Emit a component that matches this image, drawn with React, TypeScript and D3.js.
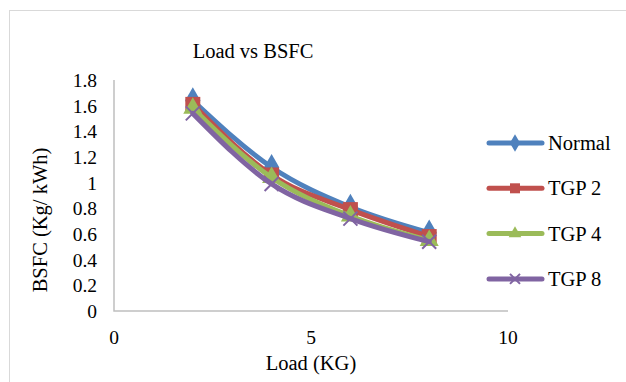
import { useEffect, useRef } from 'react'
import * as d3 from 'd3'

const loads = [2, 4, 6, 8]
const seriesNames = ['Normal', 'TGP 2', 'TGP 4', 'TGP 8']
const normal = [1.64, 1.12, 0.81, 0.61]
const tgp2 = [1.61, 1.06, 0.79, 0.58]
const tgp4 = [1.58, 1.04, 0.74, 0.55]
const tgp8 = [1.54, 0.99, 0.72, 0.54]
const yTicks = [0, 0.2, 0.4, 0.6, 0.8, 1, 1.2, 1.4, 1.6, 1.8]
const xTicks = [0, 5, 10]
const colors = ['#4F81BD', '#C0504D', '#9BBB59', '#8064A2']
const markers = ['diamond', 'square', 'triangle', 'x']

const W = 626
const H = 382
const FONT = 'Liberation Serif, Times New Roman, serif'

export default function App() {
  const svgRef = useRef<SVGSVGElement>(null)

  useEffect(() => {
    if (!svgRef.current) return
    const svg = d3.select(svgRef.current)
    svg.selectAll('*').remove()

    // chart frame
    svg.append('rect')
      .attr('x', 9.5).attr('y', 10.5)
      .attr('width', 700).attr('height', 500)
      .style('fill', 'white')
      .style('stroke', '#d9d9d9')

    const x = d3.scaleLinear().domain([0, 10]).range([114, 508])
    const y = d3.scaleLinear().domain([0, 1.8]).range([311, 80])

    // axes
    svg.append('path')
      .attr('d', `M${x(0)},${y(1.8)}V${y(0)}H${x(10)}`)
      .style('fill', 'none')
      .style('stroke', '#bfbfbf')
      .style('stroke-width', '1.5px')

    const txt = (g: any) => g.attr('font-family', FONT).attr('fill', '#000')

    svg.append('g').call(txt).selectAll('text')
      .data(yTicks).enter().append('text')
      .attr('x', 97)
      .attr('y', d => y(d) + 7)
      .attr('text-anchor', 'end')
      .attr('font-size', 19.5)
      .text(d => String(d))

    svg.append('g').call(txt).selectAll('text')
      .data(xTicks).enter().append('text')
      .attr('x', d => x(d))
      .attr('y', 344)
      .attr('text-anchor', 'middle')
      .attr('font-size', 19.5)
      .text(d => String(d))

    // titles
    const titles = svg.append('g').call(txt)
    titles.append('text')
      .attr('x', 253).attr('y', 58)
      .attr('text-anchor', 'middle')
      .attr('font-size', 20.5)
      .text('Load vs BSFC')

    titles.append('text')
      .attr('x', 311).attr('y', 370)
      .attr('text-anchor', 'middle')
      .attr('font-size', 20.5)
      .text('Load (KG)')

    titles.append('text')
      .attr('transform', `translate(47,${220}) rotate(-90)`)
      .attr('text-anchor', 'middle')
      .attr('font-size', 20.5)
      .text('BSFC (Kg/ kWh)')

    const allSeries = [normal, tgp2, tgp4, tgp8]
    const line = d3.line<number>()
      .x((_, i) => x(loads[i]))
      .y(d => y(d))
      .curve(d3.curveMonotoneX)

    const drawMarker = (g: any, kind: string, cx: number, cy: number, color: string, s: number) => {
      if (kind === 'diamond') {
        g.append('path')
          .attr('d', d3.symbol(d3.symbolDiamond, s * s * 0.9)())
          .attr('transform', `translate(${cx},${cy})`)
          .style('fill', color)
      } else if (kind === 'square') {
        g.append('rect')
          .attr('x', cx - s / 2).attr('y', cy - s / 2)
          .attr('width', s).attr('height', s)
          .style('fill', color)
      } else if (kind === 'triangle') {
        g.append('path')
          .attr('d', d3.symbol(d3.symbolTriangle, s * s * 0.7)())
          .attr('transform', `translate(${cx},${cy})`)
          .style('fill', color)
      } else {
        const h = s / 2
        g.append('path')
          .attr('d', `M${cx - h},${cy - h}L${cx + h},${cy + h}M${cx - h},${cy + h}L${cx + h},${cy - h}`)
          .style('stroke', color)
          .style('stroke-width', '2px')
      }
    }

    allSeries.forEach((vals, si) => {
      const g = svg.append('g')
      g.append('path')
        .datum(vals)
        .attr('d', line)
        .style('fill', 'none')
        .style('stroke', colors[si])
        .style('stroke-width', '5px')
        .style('stroke-linejoin', 'round')
        .style('stroke-linecap', 'round')
      vals.forEach((v, i) => {
        drawMarker(g, markers[si], x(loads[i]), y(v), colors[si], si === 3 ? 14 : 15)
      })
    })

    // legend
    const lg = svg.append('g')
    seriesNames.forEach((name, i) => {
      const ly = 143 + i * 45.3
      lg.append('line')
        .attr('x1', 489).attr('x2', 542)
        .attr('y1', ly).attr('y2', ly)
        .style('stroke', colors[i])
        .style('stroke-width', '5px')
        .style('stroke-linecap', 'round')
      drawMarker(lg, markers[i], 515, ly, colors[i], 10)
      lg.append('text')
        .attr('x', 548).attr('y', ly + 7)
        .attr('font-family', FONT)
        .attr('font-size', 20.5)
        .text(name)
    })
  }, [])

  return (
    <svg
      ref={svgRef}
      width={W}
      height={H}
      style={{ position: 'absolute', left: 0, top: 0, background: 'white' }}
    />
  )
}
